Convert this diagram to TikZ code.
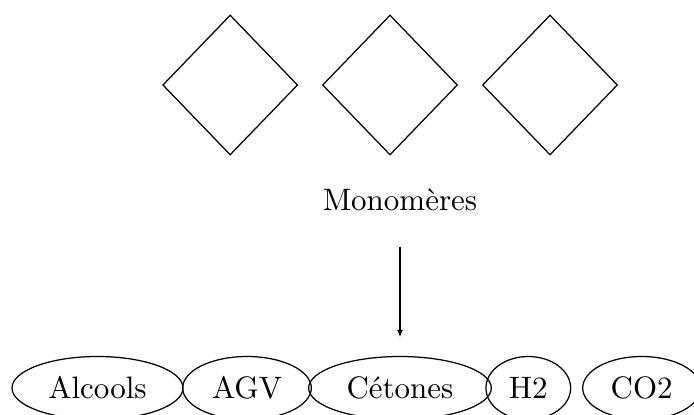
\documentclass[tikz,border=0pt]{standalone}
\usetikzlibrary{shapes.geometric,arrows.meta}
\begin{document}
\begin{tikzpicture}[x=0.3226pt,y=-0.3226pt,
  losange/.style={draw, shape=diamond, inner sep=0pt, minimum width={135*0.3226pt}, minimum height={140*0.3226pt}},
  produit/.style={draw, shape=ellipse, inner sep=0pt, minimum height={63*0.3226pt}},
  fleche/.style={-{Latex[length=2.3pt,width=1.9pt]}, line width=0.35pt}]
\useasboundingbox (0,0) rectangle (694,415);
\node[losange] (d1) at (230.2,85) {};
\node[losange] (d2) at (390,85) {};
\node[losange] (d3) at (550,85) {};
\node[anchor=base] (mono) at (400,210) {Monomères};
\coordinate (a1) at (400,246.7);
\coordinate (a2) at (400,337);
\draw[fleche] (a1) -- (a2);
\node[produit, minimum width={171*0.3226pt}] (alc) at (97.5,388) {Alcools};
\node[produit, minimum width={128.7*0.3226pt}] (agv) at (247,388) {AGV};
\node[produit, minimum width={182.7*0.3226pt}] (cet) at (400,388) {Cétones};
\node[produit, minimum width={84.7*0.3226pt}] (h2) at (528.3,388) {H2};
\node[produit, minimum width={118*0.3226pt}] (co2) at (641.7,388) {CO2};
\end{tikzpicture}
\end{document}
